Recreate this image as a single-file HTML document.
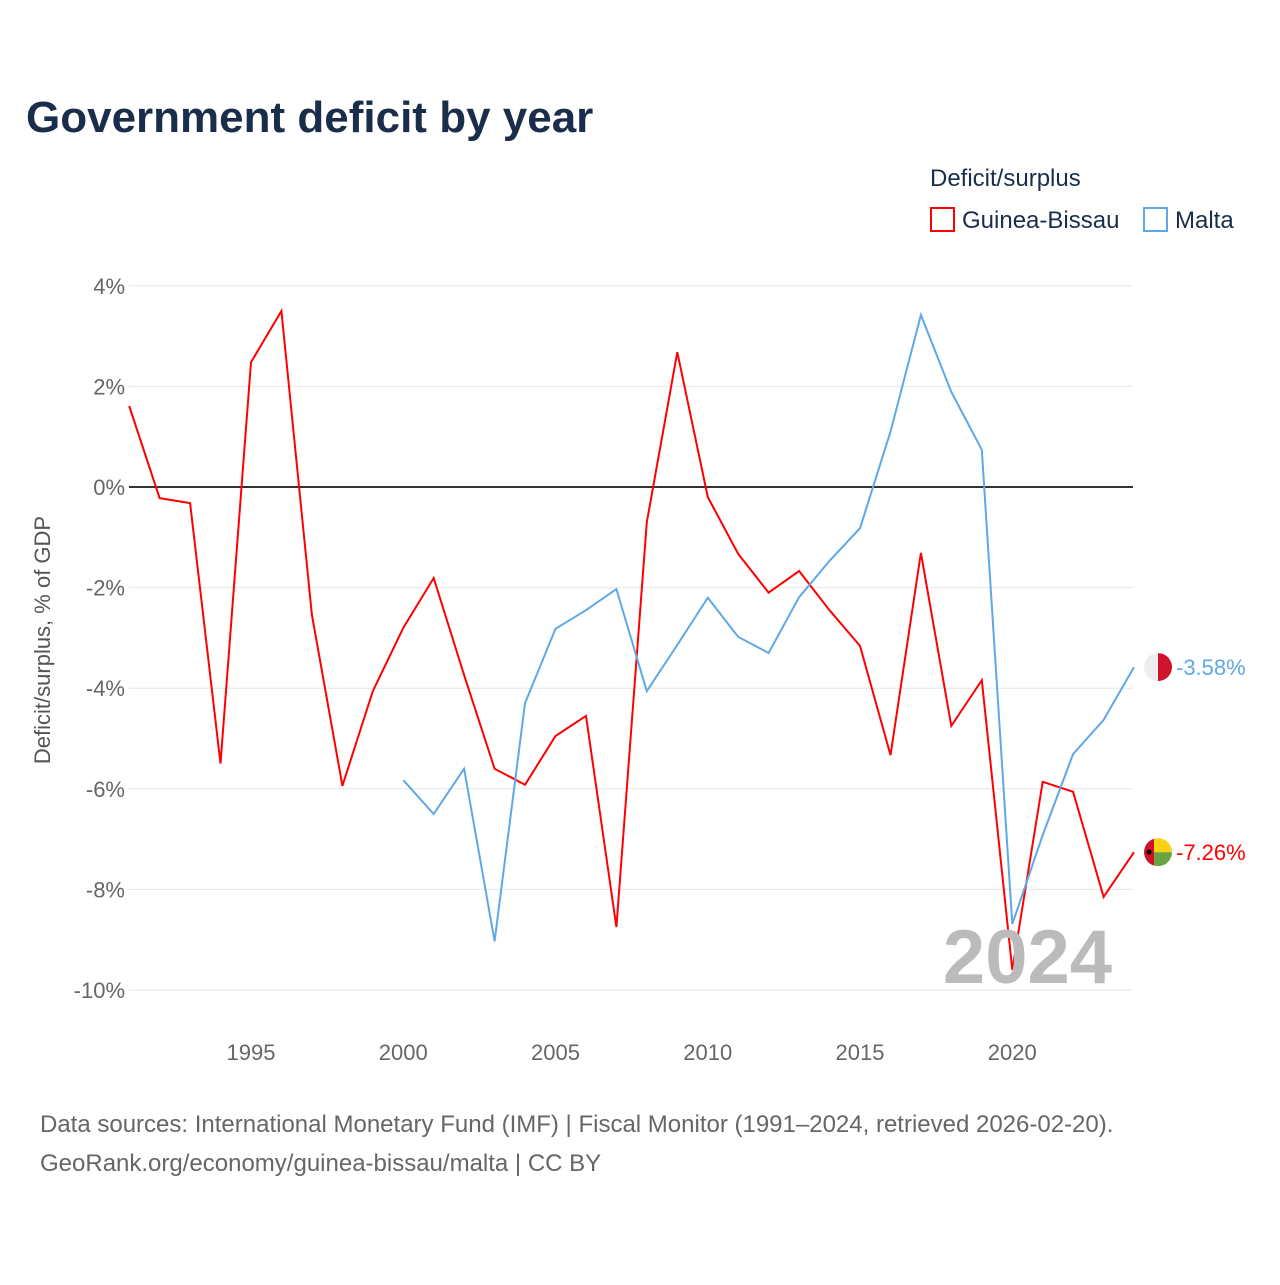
<!DOCTYPE html>
<html><head><meta charset="utf-8"><style>
body{margin:0;background:#fff;font-family:"Liberation Sans",sans-serif}
</style></head><body>
<svg id="chart" width="1280" height="1280" viewBox="0 0 1280 1280" xmlns="http://www.w3.org/2000/svg" font-family="Liberation Sans, sans-serif">
<rect width="1280" height="1280" fill="#fff"/>
<text x="26" y="132" font-size="44" font-weight="bold" fill="#1a2e4c">Government deficit by year</text>
<text x="930" y="186" font-size="24" fill="#1a2e4c">Deficit/surplus</text>
<g><rect x="931" y="208" width="23" height="23" fill="none" stroke="#f00" stroke-width="2"/><text x="962" y="228" font-size="24" fill="#1a2e4c">Guinea-Bissau</text></g>
<g><rect x="1144" y="208" width="23" height="23" fill="none" stroke="#5fa8e8" stroke-width="2"/><text x="1175" y="228" font-size="24" fill="#1a2e4c">Malta</text></g>
<defs><clipPath id="cMt"><circle cx="1158" cy="667" r="14"/></clipPath><clipPath id="cGb"><circle cx="1158" cy="852" r="14"/></clipPath></defs>
<g id="grid"></g><g id="series"></g>
<text transform="translate(50,640) rotate(-90)" text-anchor="middle" font-size="22" fill="#555">Deficit/surplus, % of GDP</text>
<text x="1112" y="983" text-anchor="end" font-size="76" font-weight="bold" fill="#bbb">2024</text>
<text x="40" y="1132" font-size="24" fill="#666">Data sources: International Monetary Fund (IMF) | Fiscal Monitor (1991–2024, retrieved 2026-02-20).</text>
<text x="40" y="1171" font-size="24" fill="#666">GeoRank.org/economy/guinea-bissau/malta | CC BY</text>
</svg>
<script>
const years=[];for(let y=1991;y<=2024;y++)years.push(y);
const gbValues=[1.61,-0.22,-0.32,-5.5,2.48,3.5,-2.54,-5.94,-4.06,-2.8,-1.81,-3.74,-5.6,-5.92,-4.95,-4.55,-8.75,-0.7,2.68,-0.2,-1.33,-2.1,-1.67,-2.45,-3.16,-5.33,-1.31,-4.75,-3.84,-9.6,-5.86,-6.06,-8.15,-7.26];
const mtValues=[null,null,null,null,null,null,null,null,null,-5.83,-6.5,-5.6,-9.03,-4.3,-2.82,-2.45,-2.03,-4.06,-3.14,-2.2,-2.98,-3.3,-2.19,-1.47,-0.82,1.1,3.42,1.89,0.74,-8.69,-6.92,-5.31,-4.63,-3.58];
const yTicks=[4,2,0,-2,-4,-6,-8,-10];
const xTicks=[1995,2000,2005,2010,2015,2020];
const NS="http://www.w3.org/2000/svg";
const xs=y=>129.2+(y-1991)*30.45;
const ys=v=>487-v*50.3;
const grid=document.getElementById('grid'),ser=document.getElementById('series');
function mk(tag,at,parent){const e=document.createElementNS(NS,tag);for(const k in at)e.setAttribute(k,at[k]);parent.appendChild(e);return e;}
yTicks.forEach(v=>{
 const l=mk('line',{x1:129,x2:1133,y1:ys(v),y2:ys(v),stroke:v===0?'#333':'#e6e6e6','stroke-width':v===0?2:1},grid);
 
 
 const t=mk('text',{x:125,y:ys(v)+8,'text-anchor':'end','font-size':22,fill:'#666'},grid);t.textContent=v+'%';
 
 
});
xTicks.forEach(y=>{
 const t=mk('text',{x:xs(y),y:1060,'text-anchor':'middle','font-size':22,fill:'#666'},grid);t.textContent=y;
 
 
});
function line(vals,color,name,flag){
 let d='';vals.forEach((v,i)=>{if(v===null)return;d+=(d?'L':'M')+xs(years[i]).toFixed(1)+','+ys(v).toFixed(1);});
 const p=mk('path',{d:d,fill:'none',stroke:color,'stroke-width':2},ser);
 
 
 const last=vals[vals.length-1];
 const cy=ys(last);
 const g=mk('g',{'clip-path':'url(#'+flag+')',transform:'translate(0,'+(cy-(flag==='cMt'?667:852))+')'},ser);
 
 
 const c0=flag==='cMt'?667:852;
 if(flag==='cMt'){
  mk('rect',{x:1144,y:c0-14,width:14,height:28,fill:'#eee'},g);
  mk('rect',{x:1158,y:c0-14,width:14,height:28,fill:'#cf142b'},g);
 }else{
  mk('rect',{x:1144,y:c0-14,width:10,height:28,fill:'#ce1126'},g);
  mk('rect',{x:1154,y:c0-14,width:18,height:14,fill:'#fcd116'},g);
  mk('rect',{x:1154,y:c0,width:18,height:14,fill:'#6aa342'},g);
  mk('circle',{cx:1149,cy:c0,r:2.5,fill:'#000'},g);
 }
 const t=mk('text',{x:1176,y:cy+8,'font-size':22,fill:color},ser);t.textContent=last.toFixed(2)+'%';
 
 
}
line(gbValues,'#ff0000','guinea-bissau','cGb');
line(mtValues,'#5fa8e8','malta','cMt');
</script>
</body></html>
